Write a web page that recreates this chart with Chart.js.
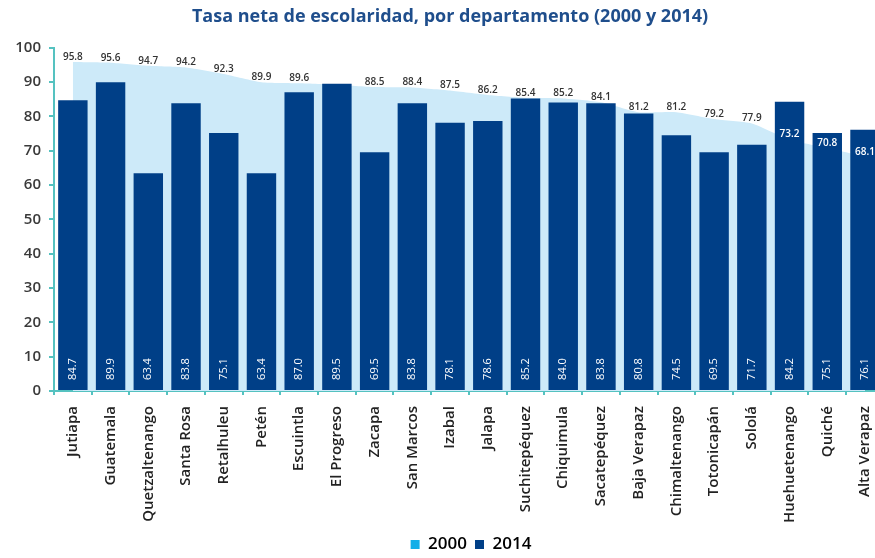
<!DOCTYPE html>
<html>
<head>
<meta charset="utf-8">
<script src="https://cdn.jsdelivr.net/npm/chart.js@4"></script>
<style>
    html, body { margin: 0; padding: 0; background: #fff; overflow: hidden; }
    #wrap { width: 894px; height: 558px; }
</style>
</head>
<body>
<div id="wrap"><canvas id="escolaridadChart"></canvas></div>
<script>
// ═══ 데이터 ═══
const departamentos = [
    'Jutiapa', 'Guatemala', 'Quetzaltenango', 'Santa Rosa', 'Retalhuleu', 'Petén',
    'Escuintla', 'El Progreso', 'Zacapa', 'San Marcos', 'Izabal', 'Jalapa',
    'Suchitepéquez', 'Chiquimula', 'Sacatepéquez', 'Baja Verapaz', 'Chimaltenango',
    'Totonicapán', 'Sololá', 'Huehuetenango', 'Quiché', 'Alta Verapaz'
];
const tasa2000 = [95.8, 95.6, 94.7, 94.2, 92.3, 89.9, 89.6, 89.2, 88.5, 88.4, 87.5,
                  86.2, 85.4, 85.2, 84.1, 81.2, 81.2, 79.2, 77.9, 73.2, 70.8, 68.1];
const tasa2014 = [84.7, 89.9, 63.4, 83.8, 75.1, 63.4, 87.0, 89.5, 69.5, 83.8, 78.1,
                  78.6, 85.2, 84.0, 83.8, 80.8, 74.5, 69.5, 71.7, 84.2, 75.1, 76.1];
const yTicks = [0, 10, 20, 30, 40, 50, 60, 70, 80, 90, 100];

const AXIS_COLOR  = '#55c2c0';
const AREA_COLOR  = '#cdeaf9';
const BAR_COLOR   = '#003f87';
const TEXT_COLOR  = '#3a3a3a';

/**
 * 값 라벨 (2000: 영역 위, 2014: 막대 안쪽 세로)
 */
const valueLabels = {
    id: 'valueLabels',
    afterDatasetsDraw(chart) {
        const ctx  = chart.ctx;
        const y    = chart.scales.y;
        const bars = chart.getDatasetMeta(1).data;
        const zero = y.getPixelForValue(0);
        ctx.save();
        ctx.textAlign    = 'center';
        ctx.textBaseline = 'middle';

        ctx.font = '600 10px "Open Sans"';
        tasa2000.forEach((v, i) => {
            ctx.fillStyle = tasa2014[i] > v ? '#ffffff' : '#333333';
            ctx.fillText(v.toFixed(1), bars[i].x, y.getPixelForValue(v) - 5);
        });

        ctx.font = '11px "Open Sans"';
        ctx.fillStyle = '#ffffff';
        tasa2014.forEach((v, i) => {
            ctx.save();
            ctx.translate(bars[i].x, zero - 22);
            ctx.rotate(-Math.PI / 2);
            ctx.fillText(v.toFixed(1), 0, 0);
            ctx.restore();
        });
        ctx.restore();
    }
};

// 범례·제목 위치 보정 (캔버스가 창보다 넓음)
const shiftBlocks = {
    id: 'shiftBlocks',
    afterLayout(chart) {
        const lg = chart.legend;
        lg.left += 24; lg.right += 24;
        lg.top  += 5;  lg.bottom += 5;
        const tb = chart.titleBlock;
        tb.left += 3; tb.right += 3;
    }
};

new Chart(document.getElementById('escolaridadChart'), {
    type: 'bar',
    data: {
        labels: departamentos,
        datasets: [
            {
                type: 'line',
                label: '2000',
                data: tasa2000,
                backgroundColor: AREA_COLOR,
                borderWidth: 0,
                pointRadius: 0,
                tension: 0.2,
                fill: 'origin',
                order: 2
            },
            {
                label: '2014',
                data: tasa2014,
                backgroundColor: BAR_COLOR,
                barPercentage: 0.78,
                categoryPercentage: 1,
                order: 1
            }
        ]
    },
    options: {
        responsive: true,
        maintainAspectRatio: false,
        animation: false,
        layout: { padding: 0 },
        scales: {
            x: {
                grid: {
                    offset: true,
                    drawOnChartArea: false,
                    drawTicks: true,
                    tickLength: 4,
                    color: AXIS_COLOR,
                    lineWidth: 2
                },
                border: { display: true, color: AXIS_COLOR, width: 2 },
                ticks: {
                    maxRotation: 90,
                    minRotation: 90,
                    autoSkip: false,
                    padding: 11,
                    color: '#222222',
                    font: { family: 'Open Sans', size: 15, weight: '600' }
                },
                afterFit: s => { s.height = 132; }
            },
            y: {
                min: 0,
                max: 100,
                afterBuildTicks: s => { s.ticks = yTicks.map(v => ({ value: v })); },
                grid: {
                    drawOnChartArea: false,
                    drawTicks: true,
                    tickLength: 5,
                    color: AXIS_COLOR,
                    lineWidth: 2
                },
                border: { display: true, color: AXIS_COLOR, width: 2 },
                ticks: {
                    padding: 8,
                    color: TEXT_COLOR,
                    font: { family: 'Open Sans', size: 15, weight: '600' }
                },
                afterFit: s => { s.width = 54; }
            }
        },
        plugins: {
            title: {
                display: true,
                text: 'Tasa neta de escolaridad, por departamento (2000 y 2014)',
                color: '#1f4e8c',
                font: { family: 'Open Sans', size: 18, weight: 'bold' },
                padding: { top: 6, bottom: 20 }
            },
            legend: {
                position: 'bottom',
                labels: {
                    boxWidth: 9,
                    boxHeight: 9,
                    padding: 8,
                    color: TEXT_COLOR,
                    font: { family: 'Open Sans', size: 17, weight: '600' },
                    generateLabels: () => [
                        { text: '2000', fillStyle: '#12aee8', strokeStyle: '#12aee8', lineWidth: 0, datasetIndex: 0 },
                        { text: '2014', fillStyle: BAR_COLOR, strokeStyle: BAR_COLOR, lineWidth: 0, datasetIndex: 1 }
                    ]
                }
            },
            tooltip: { enabled: false }
        }
    },
    plugins: [valueLabels, shiftBlocks]
});
</script>
</body>
</html>
